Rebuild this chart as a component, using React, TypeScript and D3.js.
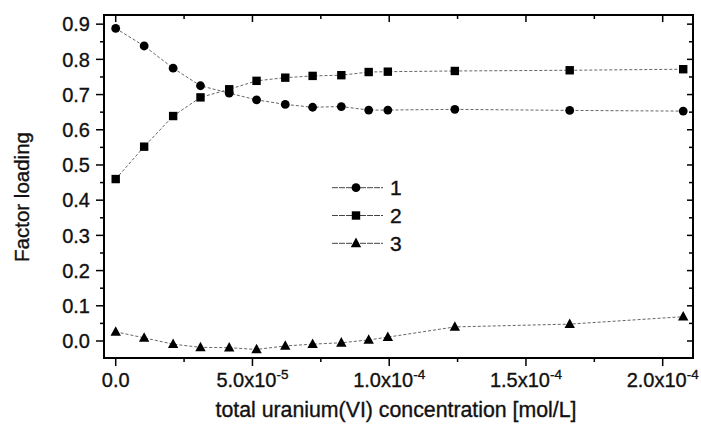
import React, { useEffect, useRef } from "react";
import * as d3 from "d3";

const xValues = [0, 1.04e-5, 2.1e-5, 3.1e-5, 4.15e-5, 5.15e-5, 6.2e-5, 7.2e-5, 8.25e-5, 9.25e-5, 9.95e-5, 1.24e-4, 1.66e-4, 2.075e-4];
const series1 = [0.888, 0.838, 0.775, 0.725, 0.704, 0.685, 0.672, 0.664, 0.666, 0.656, 0.656, 0.658, 0.655, 0.653];
const series2 = [0.46, 0.552, 0.639, 0.692, 0.715, 0.739, 0.748, 0.753, 0.755, 0.764, 0.765, 0.767, 0.769, 0.772];
const series3 = [0.026, 0.009, -0.009, -0.018, -0.019, -0.024, -0.014, -0.009, -0.005, 0.003, 0.011, 0.04, 0.048, 0.069];
const seriesNames = ["1", "2", "3"];
const markerTypes = ["circle", "square", "triangle"];
const yTicks = [0.0, 0.1, 0.2, 0.3, 0.4, 0.5, 0.6, 0.7, 0.8, 0.9];
const xTicks = [0, 5e-5, 1e-4, 1.5e-4, 2e-4];
const xTickMant = ["0.0", "5.0", "1.0", "1.5", "2.0"];
const xTickExp = ["", "-5", "-4", "-4", "-4"];
const xTitle = "total uranium(VI) concentration [mol/L]";
const yTitle = "Factor loading";

export default function App() {
  const ref = useRef<SVGSVGElement>(null);
  useEffect(() => {
    const svg = d3.select(ref.current);
    svg.selectAll("*").remove();
    const W = 701, H = 430;
    const L = 104, R = 693, T = 15, B = 358;
    const x = d3.scaleLinear().domain([-4.28e-6, 2.1108e-4]).range([L, R]);
    const y = d3.scaleLinear().domain([-0.0483, 0.926]).range([B, T]);
    const font = "Liberation Sans, Arial, Helvetica, sans-serif";
    const txt = (sel: any) => sel.attr("font-family", font).attr("fill", "#111")
      .attr("stroke", "#111").attr("stroke-width", 0.35);

    svg.append("rect").attr("width", W).attr("height", H).attr("fill", "white");

    // ticks
    const yMinor = d3.range(-0.05, 0.93, 0.05).filter((v) => v > -0.048 && v < 0.926);
    const xMinor = d3.range(0, 2.11e-4, 2.5e-5);
    const g = svg.append("g").attr("stroke", "#000").attr("stroke-width", 1.5);
    yMinor.forEach((v) => {
      const isMajor = Math.abs(Math.round(v * 10) - v * 10) < 1e-6;
      const len = isMajor ? 8 : 4;
      g.append("line").attr("x1", L - len).attr("x2", L).attr("y1", y(v)).attr("y2", y(v));
      g.append("line").attr("x1", R).attr("x2", R - (isMajor ? 6 : 4)).attr("y1", y(v)).attr("y2", y(v));
    });
    xMinor.forEach((v, i) => {
      const isMajor = i % 2 === 0;
      g.append("line").attr("x1", x(v)).attr("x2", x(v)).attr("y1", B).attr("y2", B + (isMajor ? 8 : 4));
      g.append("line").attr("x1", x(v)).attr("x2", x(v)).attr("y1", T).attr("y2", T + (isMajor ? 7 : 4));
    });

    // frame
    svg.append("rect").attr("x", L).attr("y", T).attr("width", R - L).attr("height", B - T)
      .attr("fill", "none").attr("stroke", "#000").attr("stroke-width", 2);

    // y tick labels
    yTicks.forEach((v) => {
      svg.append("text").attr("x", 90).attr("y", y(v)).attr("dy", "0.36em")
        .attr("text-anchor", "end").call(txt).attr("font-size", 20).text(v.toFixed(1));
    });
    // x tick labels
    xTicks.forEach((v, i) => {
      const t = svg.append("text").attr("x", x(v)).attr("y", 387)
        .attr("text-anchor", "middle").call(txt).attr("font-size", 20);
      if (xTickExp[i]) {
        t.append("tspan").text(xTickMant[i] + "x10");
        t.append("tspan").attr("font-size", 13.5).attr("dy", -8).text(xTickExp[i]);
      } else {
        t.text(xTickMant[i]);
      }
    });

    // titles
    svg.append("text").attr("x", 396).attr("y", 417).attr("text-anchor", "middle")
      .call(txt).attr("font-size", 21.3).text(xTitle);
    svg.append("text").attr("transform", "translate(29,197) rotate(-90)").attr("text-anchor", "middle")
      .call(txt).attr("font-size", 20.5).text(yTitle);

    const allSeries = [series1, series2, series3];
    const line = d3.line<[number, number]>().x((d) => x(d[0])).y((d) => y(d[1]));

    const drawMarker = (sel: any, type: string, cx: number, cy: number) => {
      if (type === "circle") {
        sel.append("circle").attr("cx", cx).attr("cy", cy).attr("r", 4.4).attr("fill", "#000");
      } else if (type === "square") {
        sel.append("rect").attr("x", cx - 4.2).attr("y", cy - 4.2).attr("width", 8.4).attr("height", 8.4).attr("fill", "#000");
      } else {
        const s = 5.2;
        sel.append("path").attr("d", `M${cx},${cy - s - 0.5}L${cx + s},${cy + s * 0.75}L${cx - s},${cy + s * 0.75}Z`).attr("fill", "#000");
      }
    };

    allSeries.forEach((vals, si) => {
      const pts: [number, number][] = xValues.map((xv, i) => [xv, vals[i]]);
      svg.append("path").attr("d", line(pts)).attr("fill", "none")
        .attr("stroke", "#666").attr("stroke-width", 1).attr("stroke-dasharray", "3,2");
      const mg = svg.append("g");
      pts.forEach((p) => drawMarker(mg, markerTypes[si], x(p[0]), y(p[1])));
    });

    // legend
    seriesNames.forEach((name, i) => {
      const ly = 187.7 + i * 27.8;
      svg.append("line").attr("x1", 332).attr("x2", 383).attr("y1", ly).attr("y2", ly)
        .attr("stroke", "#444").attr("stroke-width", 1).attr("stroke-dasharray", "6,1");
      drawMarker(svg, markerTypes[i], 356, ly);
      svg.append("text").attr("x", 390).attr("y", ly).attr("dy", "0.36em")
        .call(txt).attr("font-size", 21).text(name);
    });
  }, []);
  return (
    <svg ref={ref} width={701} height={430} style={{ position: "absolute", left: 0, top: 0, display: "block" }} />
  );
}
